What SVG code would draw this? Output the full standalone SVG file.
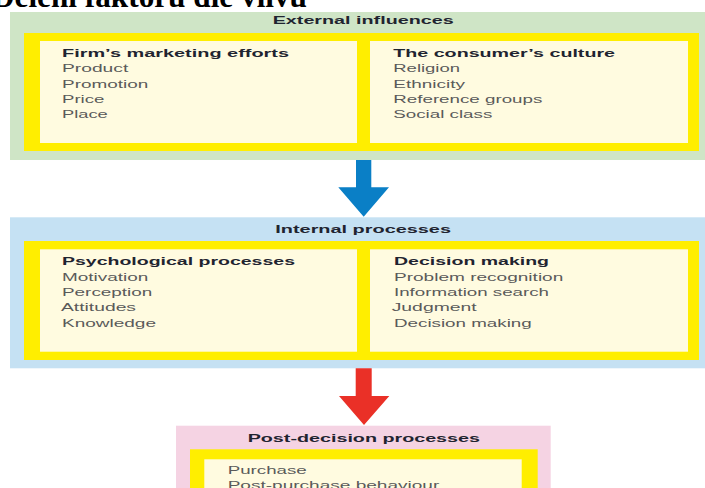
<svg xmlns="http://www.w3.org/2000/svg" width="705" height="488" viewBox="0 0 705 488">
<style>
.title{font-family:"Liberation Serif","Times New Roman",serif;font-weight:bold;font-size:31px;fill:#000}
.hd{font-family:"Liberation Sans",Arial,sans-serif;font-weight:bold;font-size:11.5px;fill:#1f2430}
.it{font-family:"Liberation Sans",Arial,sans-serif;font-size:11.6px;fill:#5a5a5a}
.yl{fill:#ffee00}
.cr{fill:#fffbe0}
</style>
<rect width="705" height="488" fill="#ffffff"/>
<text class="title" x="-8" y="7" textLength="315" lengthAdjust="spacingAndGlyphs">Dělení faktorů dle vlivu</text>

<g id="external-influences">
<rect x="10" y="12" width="695" height="148" fill="#cfe5c6"/>
<rect x="24" y="33" width="675" height="118" class="yl"/>
<text class="hd" x="272.7" y="24" textLength="181" lengthAdjust="spacingAndGlyphs">External influences</text>
</g>
<g id="firms-marketing-efforts">
<rect x="40" y="41" width="317" height="102" class="cr"/>
<text class="hd" x="62" y="56.7" textLength="227" lengthAdjust="spacingAndGlyphs">Firm’s marketing efforts</text>
<text class="it" x="62" y="72.3" textLength="66.3" lengthAdjust="spacingAndGlyphs">Product</text>
<text class="it" x="62" y="87.7" textLength="86.3" lengthAdjust="spacingAndGlyphs">Promotion</text>
<text class="it" x="62" y="103" textLength="42.3" lengthAdjust="spacingAndGlyphs">Price</text>
<text class="it" x="62" y="118.3" textLength="45.7" lengthAdjust="spacingAndGlyphs">Place</text>
</g>
<g id="consumers-culture">
<rect x="370" y="41" width="318" height="102" class="cr"/>
<text class="hd" x="393.3" y="56.7" textLength="221.7" lengthAdjust="spacingAndGlyphs">The consumer’s culture</text>
<text class="it" x="393.3" y="72.3" textLength="66.7" lengthAdjust="spacingAndGlyphs">Religion</text>
<text class="it" x="393.3" y="87.7" textLength="71.7" lengthAdjust="spacingAndGlyphs">Ethnicity</text>
<text class="it" x="393.3" y="103" textLength="149" lengthAdjust="spacingAndGlyphs">Reference groups</text>
<text class="it" x="393.3" y="118.3" textLength="99" lengthAdjust="spacingAndGlyphs">Social class</text>
</g>

<g id="internal-processes">
<rect x="10" y="217.3" width="695" height="151" fill="#c5e1f3"/>
<rect x="24" y="241" width="675" height="119" class="yl"/>
<text class="hd" x="275.3" y="232.7" textLength="175.7" lengthAdjust="spacingAndGlyphs">Internal processes</text>
</g>
<g id="psychological-processes">
<rect x="40" y="249.3" width="317" height="102.4" class="cr"/>
<text class="hd" x="62" y="265" textLength="233" lengthAdjust="spacingAndGlyphs">Psychological processes</text>
<text class="it" x="62" y="280.5" textLength="86.3" lengthAdjust="spacingAndGlyphs">Motivation</text>
<text class="it" x="62" y="296" textLength="90.3" lengthAdjust="spacingAndGlyphs">Perception</text>
<text class="it" x="61" y="311.3" textLength="75" lengthAdjust="spacingAndGlyphs">Attitudes</text>
<text class="it" x="62" y="326.7" textLength="94" lengthAdjust="spacingAndGlyphs">Knowledge</text>
</g>
<g id="decision-making">
<rect x="370" y="249.3" width="318" height="102.4" class="cr"/>
<text class="hd" x="394" y="265" textLength="155" lengthAdjust="spacingAndGlyphs">Decision making</text>
<text class="it" x="394" y="280.5" textLength="169.3" lengthAdjust="spacingAndGlyphs">Problem recognition</text>
<text class="it" x="394" y="296" textLength="155" lengthAdjust="spacingAndGlyphs">Information search</text>
<text class="it" x="391.7" y="311.3" textLength="85" lengthAdjust="spacingAndGlyphs">Judgment</text>
<text class="it" x="394" y="326.7" textLength="137.7" lengthAdjust="spacingAndGlyphs">Decision making</text>
</g>

<g id="post-decision-processes">
<rect x="176" y="425.7" width="374.7" height="70" fill="#f5d3e3"/>
<rect x="190" y="449.3" width="347.7" height="50" class="yl"/>
<rect x="204.3" y="459.3" width="317.4" height="40" class="cr"/>
<text class="hd" x="247.7" y="441.7" textLength="232.3" lengthAdjust="spacingAndGlyphs">Post-decision processes</text>
<text class="it" x="227.7" y="474" textLength="79" lengthAdjust="spacingAndGlyphs">Purchase</text>
<text class="it" x="227.7" y="489.3" textLength="211.6" lengthAdjust="spacingAndGlyphs">Post-purchase behaviour</text>
</g>

<g id="connectors">
<polygon points="356,160 371.3,160 371.3,187.3 389,187.3 363.7,216.7 338.3,187.3 356,187.3" fill="#0a7fc6"/>
<polygon points="355.7,368.3 371.7,368.3 371.7,396 389.3,396 364,425 339,396 355.7,396" fill="#ea3027"/>
</g>
</svg>
